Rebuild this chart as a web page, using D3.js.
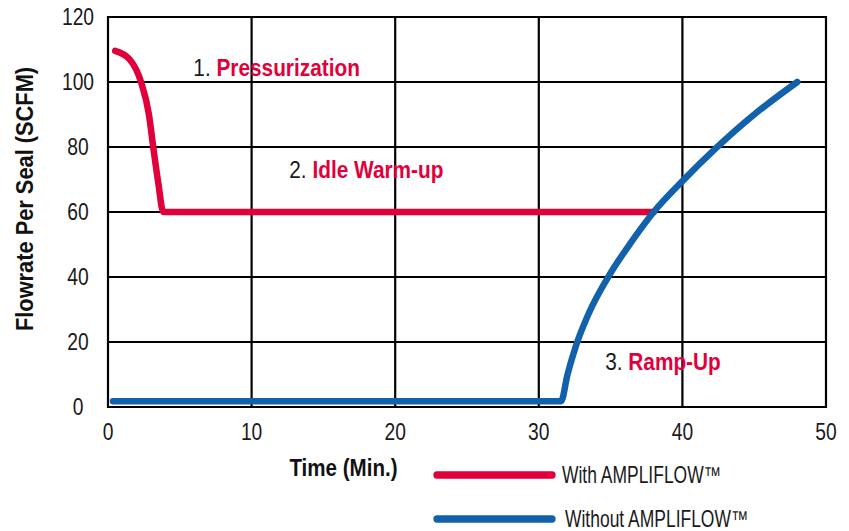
<!DOCTYPE html>
<html>
<head>
<meta charset="utf-8">
<script src="https://cdn.jsdelivr.net/npm/d3@7"></script>
<style>
  body { margin: 0; background: #fff; }
  text { font-family: "Liberation Sans", Arial, sans-serif; }
</style>
</head>
<body>
<div id="root"></div>
<script>
// data
var xTicks = [0, 10, 20, 30, 40, 50];
var yTicks = [0, 20, 40, 60, 80, 100, 120];

var withAmp = [
  [0.5, 109.6], [1.5, 107], [2.3, 100], [2.85, 90], [3.15, 80],
  [3.5, 69], [3.85, 60], [38.0, 60]
];
var withoutAmp = [
  [0.35, 1.8], [31.55, 1.8], [32.0, 10], [32.6, 19], [33.5, 29], [34.9, 40.5],
  [36.4, 50.5], [38.0, 60], [40.0, 69.5], [42.3, 79.5], [45.0, 90], [48.0, 100]
];

var seriesNames = ["With AMPLIFLOW\u2122", "Without AMPLIFLOW\u2122"];
var noteNums = ["1. ", "2. ", "3. "];
var noteLabels = ["Pressurization", "Idle Warm-up", "Ramp-Up"];
var noteAt = [[6.22, 103.1], [12.9, 71.6], [34.9, 12.6]];

var red = "#e2003a";
var blue = "#1262ab";

var w = 849, h = 531;
var margin = { top: 17, right: 23, bottom: 124, left: 108 };

var svg = d3.select("#root").append("svg").attr("width", w).attr("height", h);

var x = d3.scaleLinear().domain([0, 50]).range([margin.left, w - margin.right]);
var y = d3.scaleLinear().domain([0, 120]).range([h - margin.bottom, margin.top]);

// condensed text: squeeze normal glyphs sideways
function addText(parent, tx, ty, anchor, size, sx) {
  return parent.append("g").attr("transform", "translate(" + tx + "," + ty + ") scale(" + sx + ",1)")
    .append("text").attr("text-anchor", anchor).style("font-size", size + "px");
}

// grid
svg.append("g").selectAll("line").data(yTicks).enter().append("line")
  .attr("x1", x(0) - 1).attr("x2", x(50) + 1)
  .attr("y1", function(d) { return y(d); }).attr("y2", function(d) { return y(d); })
  .attr("stroke", "#000").attr("stroke-width", 2.2);
svg.append("g").selectAll("line").data(xTicks).enter().append("line")
  .attr("y1", y(0) + 1).attr("y2", y(120) - 1)
  .attr("x1", function(d) { return x(d); }).attr("x2", function(d) { return x(d); })
  .attr("stroke", "#000").attr("stroke-width", 2.2);

// tick labels
xTicks.forEach(function(d) {
  addText(svg, x(d), y(0) + 33, "middle", 23.5, 0.82).attr("fill", "#1a1a1a").text(d);
});
yTicks.forEach(function(d) {
  addText(svg, 78, y(d) + 8, "middle", 23.5, 0.82).attr("fill", "#1a1a1a").text(d);
});

// axis titles
addText(svg, 343.5, 476, "middle", 24.5, 0.84).style("font-weight", "bold").attr("fill", "#111").text("Time (Min.)");
svg.append("g").attr("transform", "translate(33,199) rotate(-90) scale(0.89,1)")
  .append("text").attr("text-anchor", "middle").style("font-size", "24.5px")
  .style("font-weight", "bold").attr("fill", "#111").text("Flowrate Per Seal (SCFM)");

// lines
var line = d3.line()
  .x(function(d) { return x(d[0]); })
  .y(function(d) { return y(d[1]); })
  .curve(d3.curveMonotoneX);

svg.append("path").datum(withAmp).attr("d", line).attr("fill", "none")
  .attr("stroke", red).attr("stroke-width", 6.5).attr("stroke-linecap", "round").attr("stroke-linejoin", "round");
svg.append("path").datum(withoutAmp).attr("d", line).attr("fill", "none")
  .attr("stroke", blue).attr("stroke-width", 6.5).attr("stroke-linecap", "round").attr("stroke-linejoin", "round");

// annotations
noteLabels.forEach(function(lbl, i) {
  var t = addText(svg, x(noteAt[i][0]) - 4, y(noteAt[i][1]) + 4, "start", 24.5, 0.85);
  t.append("tspan").attr("fill", "#1a1a1a").text(noteNums[i]);
  t.append("tspan").attr("fill", red).style("font-weight", "bold").text(lbl);
});

// legend
var legColors = [red, blue];
var legY = [475, 519];
seriesNames.forEach(function(name, i) {
  svg.append("line").attr("x1", 437).attr("x2", 552).attr("y1", legY[i]).attr("y2", legY[i])
    .attr("stroke", legColors[i]).attr("stroke-width", 7.3).attr("stroke-linecap", "round");
  addText(svg, i ? 565 : 562, legY[i] + 8, "start", 23, 0.76).attr("fill", "#1a1a1a").text(name);
});
</script>
</body>
</html>
